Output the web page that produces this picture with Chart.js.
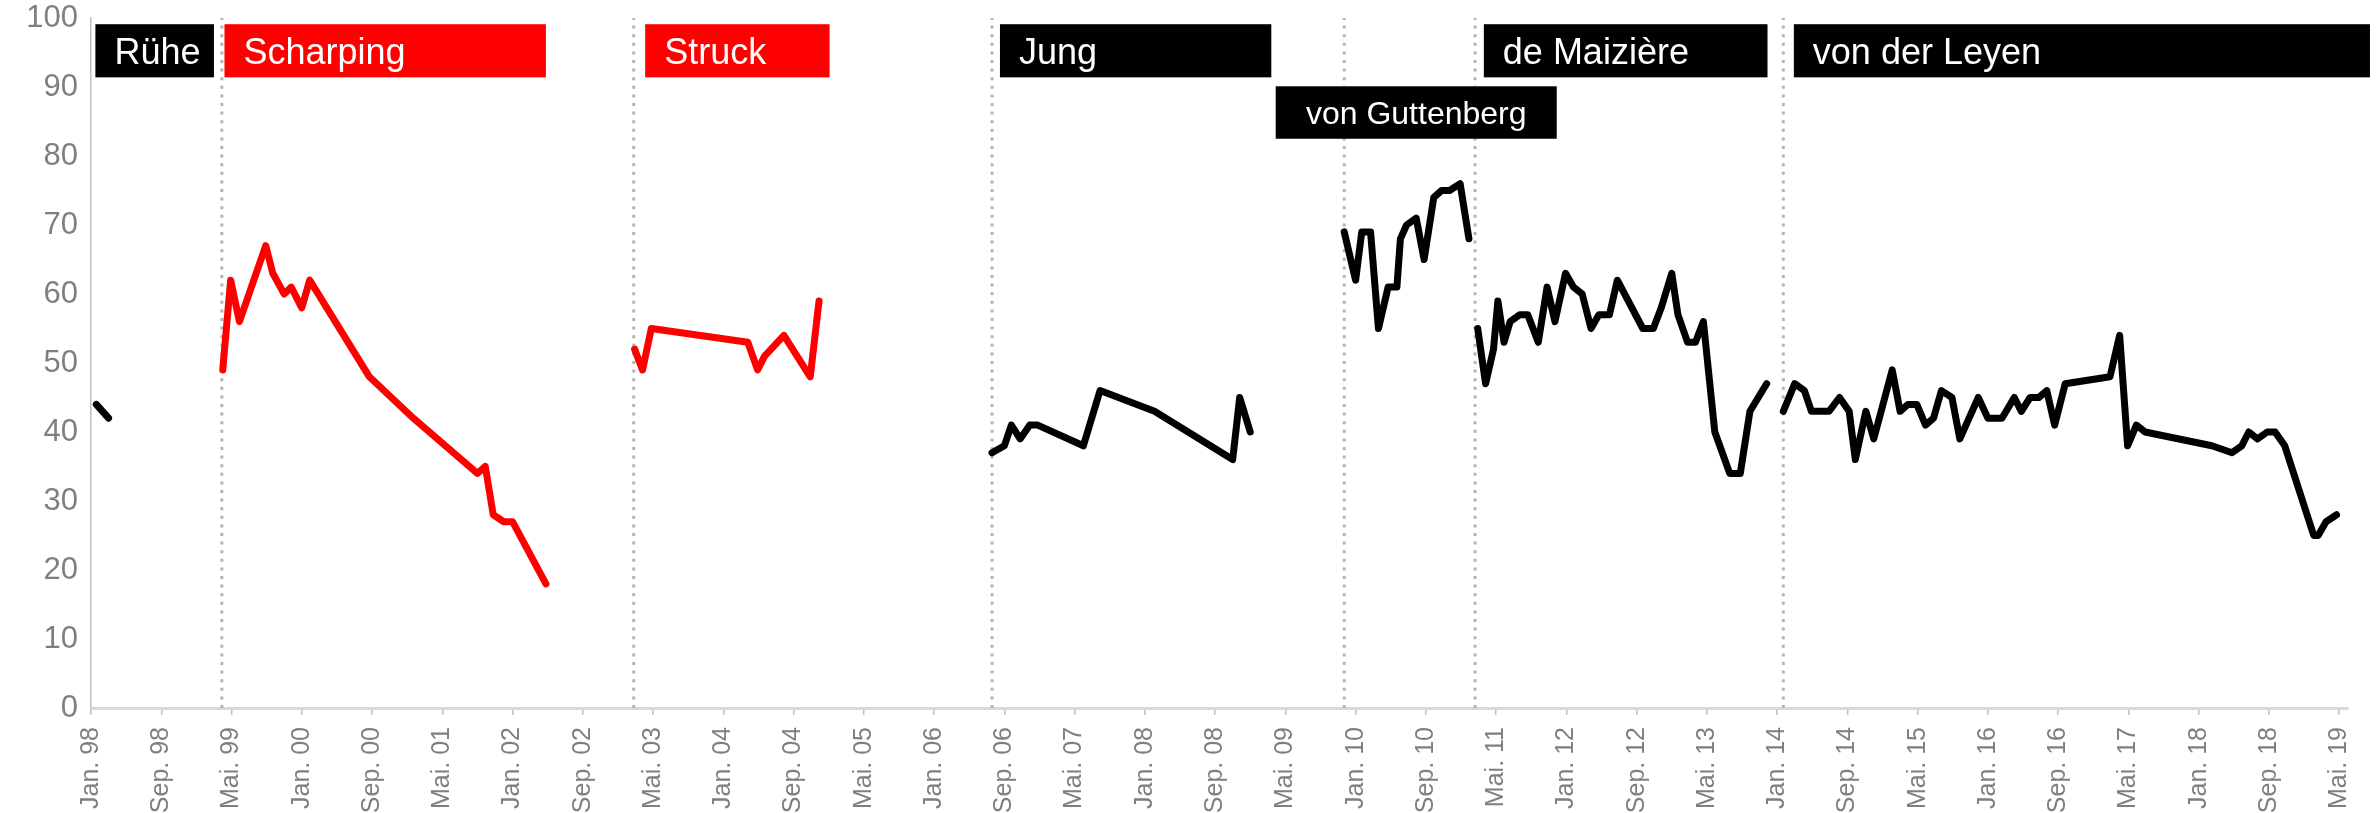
<!DOCTYPE html>
<html lang="de">
<head>
<meta charset="utf-8">
<title>Verteidigungsminister – Zufriedenheit</title>
<script src="https://cdn.jsdelivr.net/npm/chart.js@4.4.1/dist/chart.umd.min.js"></script>
<style>
  html, body { margin: 0; padding: 0; background: #fff; }
  #wrap { width: 2377px; height: 813px; position: relative; }
</style>
</head>
<body>
<div id="wrap"><canvas id="chart"></canvas></div>
<script>
// x = Monate seit Jan. 1998
const tickLabels = ['Jan. 98','Sep. 98','Mai. 99','Jan. 00','Sep. 00','Mai. 01','Jan. 02','Sep. 02',
  'Mai. 03','Jan. 04','Sep. 04','Mai. 05','Jan. 06','Sep. 06','Mai. 07','Jan. 08','Sep. 08',
  'Mai. 09','Jan. 10','Sep. 10','Mai. 11','Jan. 12','Sep. 12','Mai. 13','Jan. 14','Sep. 14',
  'Mai. 15','Jan. 16','Sep. 16','Mai. 17','Jan. 18','Sep. 18','Mai. 19'];

const ruheMonths = [0.6, 2.0];
const ruheValues = [44, 42];

const scharpingMonths = [15.0, 15.9, 16.9, 19.9, 20.7, 22.0, 22.8, 24.0, 24.9, 31.7, 36.7, 44.0, 44.9, 45.8, 47.0, 48.0, 51.8];
const scharpingValues = [49, 62, 56, 67, 63, 60, 61, 58, 62, 48, 42, 34, 35, 28, 27, 27, 18];

const struckMonths = [61.9, 62.8, 63.8, 74.8, 75.9, 76.7, 78.9, 81.9, 82.9];
const struckValues = [52, 49, 55, 53, 49, 51, 54, 48, 59];

const jungMonths = [102.6, 104.0, 104.8, 105.8, 106.9, 107.8, 113.0, 114.9, 121.1, 130.0, 130.8, 132.0];
const jungValues = [37, 38, 41, 39, 41, 41, 38, 46, 43, 36, 45, 40];

const guttenbergMonths = [142.7, 144.0, 144.7, 145.7, 146.6, 147.7, 148.7, 149.1, 149.8, 150.9, 151.8, 152.9, 153.8, 154.7, 155.9, 156.9];
const guttenbergValues = [69, 62, 69, 69, 55, 61, 61, 68, 70, 71, 65, 74, 75, 75, 76, 68];

const maiziereMonths = [157.9, 158.8, 159.7, 160.2, 160.9, 161.6, 162.7, 163.6, 164.8, 165.8, 166.7, 167.9, 168.8, 169.8,
  170.8, 171.7, 172.9, 173.8, 176.7, 177.9, 178.8, 180.0, 180.7, 181.8, 182.7, 183.6, 184.9, 186.6, 187.8, 188.9, 190.8];
const maiziereValues = [55, 47, 52, 59, 53, 56, 57, 57, 53, 61, 56, 63, 61, 60, 55, 57, 57, 62, 55, 55,
  58, 63, 57, 53, 53, 56, 40, 34, 34, 43, 47];

const leyenMonths = [192.7, 194.0, 195.1, 195.9, 197.9, 199.1, 200.2, 200.9, 202.1, 203.0, 205.1, 206.0, 206.9, 207.9,
  208.9, 209.8, 210.7, 211.9, 212.8, 214.9, 216.0, 217.6, 219.0, 219.8, 220.8, 221.8, 222.7, 223.6, 224.8, 229.9,
  231.0, 231.9, 232.9, 233.9, 241.5, 243.8, 244.9, 245.7, 246.7, 247.8, 248.7, 249.8, 253.1, 253.6, 254.5, 255.7];
const leyenValues = [43, 47, 46, 43, 43, 45, 43, 36, 43, 39, 49, 43, 44, 44, 41, 42, 46, 45, 39, 45,
  42, 42, 45, 43, 45, 45, 46, 41, 47, 48, 54, 38, 41, 40, 38, 37, 38, 40, 39, 40, 40, 38, 25, 25, 27, 28];

// Amtswechsel (gepunktete Linien)
const changeMonths = [14.9, 61.8, 102.6, 142.7, 157.6, 192.7];

const ministerNames = ['Rühe', 'Scharping', 'Struck', 'Jung', 'von Guttenberg', 'de Maizière', 'von der Leyen'];

// Namensbalken oben (in Achsen-Einheiten)
const nameBoxes = [
  { name: ministerNames[0], from: 0.5,   to: 14.0,  top: 99.1, bottom: 91.4, color: '#000000' },
  { name: ministerNames[1], from: 15.2,  to: 51.8,  top: 99.1, bottom: 91.4, color: '#ff0000' },
  { name: ministerNames[2], from: 63.1,  to: 84.1,  top: 99.1, bottom: 91.4, color: '#ff0000' },
  { name: ministerNames[3], from: 103.5, to: 134.4, top: 99.1, bottom: 91.4, color: '#000000' },
  { name: ministerNames[4], from: 134.9, to: 166.9, top: 90.1, bottom: 82.5, color: '#000000', small: true },
  { name: ministerNames[5], from: 158.6, to: 190.9, top: 99.1, bottom: 91.4, color: '#000000' },
  { name: ministerNames[6], from: 193.9, to: 259.5, top: 99.1, bottom: 91.4, color: '#000000' }
];

const FONT = '"Liberation Sans", Arial, sans-serif';
const GREY = '#7f7f7f';

function pts(months, values) {
  return months.map((m, i) => ({ x: m, y: values[i] }));
}

function segment(months, values, color) {
  return {
    data: pts(months, values),
    borderColor: color,
    borderWidth: 7,
    borderCapStyle: 'round',
    borderJoinStyle: 'round',
    pointRadius: 0,
    tension: 0,
    fill: false,
    order: 0
  };
}

const dividerSets = changeMonths.map(m => ({
  data: [{ x: m, y: 0 }, { x: m, y: 100 }],
  borderColor: '#b4b4b4',
  borderWidth: 3,
  borderDash: [3, 5.6],
  pointRadius: 0,
  fill: false,
  order: 2
}));

const nameBoxPlugin = {
  id: 'nameBoxes',
  afterDraw(chart) {
    const { ctx, scales: { x, y } } = chart;
    ctx.save();
    nameBoxes.forEach(b => {
      const left = x.getPixelForValue(b.from);
      const right = x.getPixelForValue(b.to);
      const top = y.getPixelForValue(b.top);
      const bottom = y.getPixelForValue(b.bottom);
      ctx.fillStyle = b.color;
      ctx.fillRect(left, top, right - left, bottom - top);

      const size = b.small ? 32 : 36;
      ctx.font = size + 'px ' + FONT;
      ctx.fillStyle = '#ffffff';
      ctx.textBaseline = 'alphabetic';
      const baseY = (top + bottom) / 2 + size * 0.36;
      if (b.small) {
        ctx.textAlign = 'center';
        ctx.fillText(b.name, (left + right) / 2, baseY);
      } else {
        ctx.textAlign = 'left';
        ctx.fillText(b.name, left + 19, baseY);
      }
    });
    ctx.restore();
  }
};

new Chart(document.getElementById('chart'), {
  type: 'line',
  data: {
    datasets: [
      segment(ruheMonths, ruheValues, '#000000'),
      segment(scharpingMonths, scharpingValues, '#ff0000'),
      segment(struckMonths, struckValues, '#ff0000'),
      segment(jungMonths, jungValues, '#000000'),
      segment(guttenbergMonths, guttenbergValues, '#000000'),
      segment(maiziereMonths, maiziereValues, '#000000'),
      segment(leyenMonths, leyenValues, '#000000'),
      ...dividerSets
    ]
  },
  options: {
    responsive: true,
    maintainAspectRatio: false,
    animation: false,
    layout: { padding: { top: 18, right: 29, left: 0, bottom: 0 } },
    plugins: {
      legend: { display: false },
      tooltip: { enabled: false }
    },
    scales: {
      x: {
        type: 'linear',
        min: 0,
        max: 257,
        afterFit: s => { s.height = 105; s.paddingLeft = 0; s.paddingRight = 0; },
        grid: { drawOnChartArea: false, drawTicks: true, tickLength: 7, color: '#bfbfbf', lineWidth: 1.5 },
        border: { display: true, color: '#d9d9d9', width: 3 },
        ticks: {
          stepSize: 8,
          includeBounds: false,
          autoSkip: false,
          maxRotation: 90,
          minRotation: 90,
          padding: 12,
          color: GREY,
          font: { family: FONT, size: 25 },
          callback: v => tickLabels[Math.round(v / 8)] ?? ''
        }
      },
      y: {
        min: 0,
        max: 100,
        afterFit: s => { s.width = 91; s.paddingTop = 0; s.paddingBottom = 0; },
        grid: { drawOnChartArea: false, drawTicks: false },
        border: { display: true, color: '#bfbfbf', width: 1.5 },
        ticks: {
          stepSize: 10,
          padding: 13,
          color: GREY,
          font: { family: FONT, size: 31 }
        }
      }
    }
  },
  plugins: [nameBoxPlugin]
});
</script>
</body>
</html>
